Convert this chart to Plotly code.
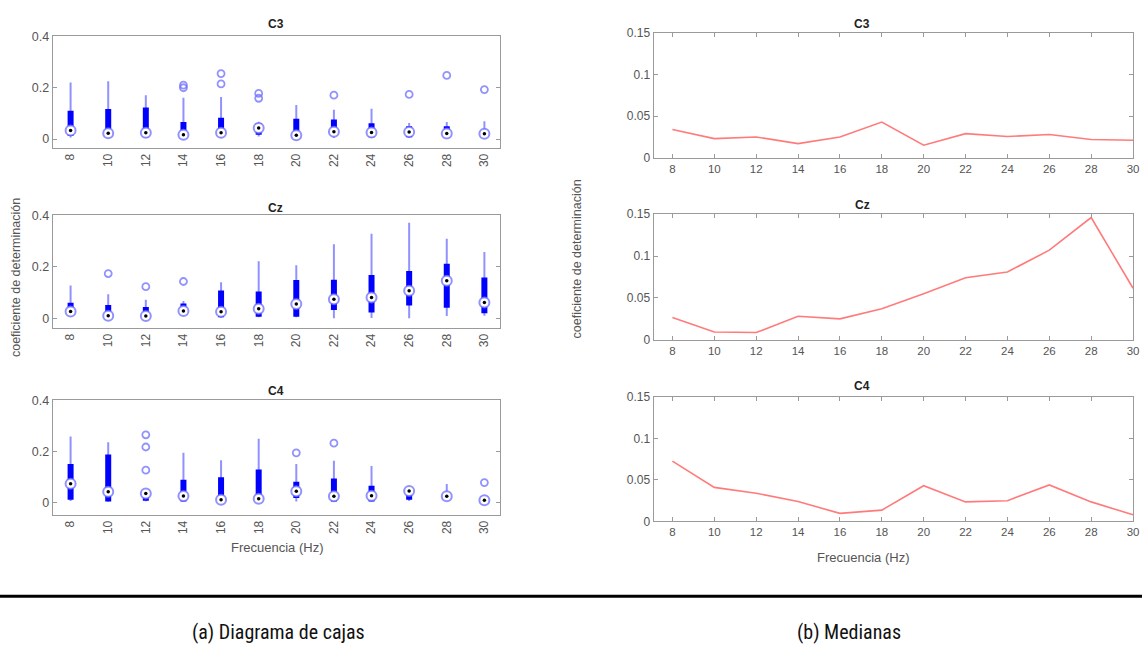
import plotly.graph_objects as go

W, H = 1148, 657

freqs = [8, 10, 12, 14, 16, 18, 20, 22, 24, 26, 28, 30]
channels = ["C3", "Cz", "C4"]

# medians (shared by box plots and median curves)
med_C3 = [0.034, 0.023, 0.025, 0.017, 0.025, 0.043, 0.015, 0.029, 0.0255, 0.028, 0.022, 0.021]
med_Cz = [0.0265, 0.0093, 0.0086, 0.028, 0.025, 0.037, 0.055, 0.074, 0.081, 0.107, 0.146, 0.0615]
med_C4 = [0.0726, 0.041, 0.034, 0.024, 0.0098, 0.0137, 0.043, 0.0236, 0.025, 0.044, 0.0236, 0.008]

# box quartiles
q1_C3 = [0.013, 0.008, 0.007, 0.009, 0.009, 0.017, 0.006, 0.017, 0.007, 0.007, 0.007, 0.008]
q3_C3 = [0.110, 0.117, 0.123, 0.067, 0.083, 0.063, 0.079, 0.076, 0.062, 0.050, 0.050, 0.030]
q1_Cz = [0.013, 0.006, 0.004, 0.019, 0.004, 0.006, 0.006, 0.032, 0.022, 0.050, 0.041, 0.019]
q3_Cz = [0.060, 0.052, 0.044, 0.057, 0.108, 0.104, 0.149, 0.150, 0.168, 0.184, 0.212, 0.159]
q1_C4 = [0.010, 0.003, 0.006, 0.003, 0.003, 0.003, 0.017, 0.003, 0.003, 0.010, 0.010, 0.003]
q3_C4 = [0.150, 0.188, 0.043, 0.088, 0.098, 0.129, 0.080, 0.093, 0.065, 0.052, 0.036, 0.023]

# whiskers
wlo_C3 = [0.006, 0.004, 0.004, 0.004, 0.004, 0.010, 0.003, 0.004, 0.004, 0.004, 0.004, 0.004]
whi_C3 = [0.220, 0.225, 0.171, 0.161, 0.164, 0.068, 0.133, 0.114, 0.118, 0.063, 0.067, 0.070]
wlo_Cz = [0.008, 0.004, 0.003, 0.012, 0.002, 0.004, 0.004, 0.000, 0.001, 0.000, 0.009, 0.010]
whi_Cz = [0.127, 0.093, 0.072, 0.067, 0.140, 0.222, 0.206, 0.288, 0.329, 0.372, 0.309, 0.258]
wlo_C4 = [0.005, 0.002, 0.004, 0.002, 0.002, 0.002, 0.003, 0.002, 0.002, 0.005, 0.005, 0.002]
whi_C4 = [0.258, 0.236, 0.045, 0.194, 0.165, 0.249, 0.150, 0.163, 0.142, 0.059, 0.072, 0.026]

# outliers (frequency, value)
out_C3 = [(14, 0.210), (14, 0.200), (16, 0.255), (16, 0.215), (18, 0.178), (18, 0.159),
          (22, 0.171), (26, 0.174), (28, 0.248), (30, 0.193)]
out_Cz = [(10, 0.174), (12, 0.123), (14, 0.143)]
out_C4 = [(12, 0.265), (12, 0.217), (12, 0.126), (20, 0.194), (22, 0.232), (30, 0.077)]

data = {
    "C3": dict(med=med_C3, q1=q1_C3, q3=q3_C3, wlo=wlo_C3, whi=whi_C3, out=out_C3),
    "Cz": dict(med=med_Cz, q1=q1_Cz, q3=q3_Cz, wlo=wlo_Cz, whi=whi_Cz, out=out_Cz),
    "C4": dict(med=med_C4, q1=q1_C4, q3=q3_C4, wlo=wlo_C4, whi=whi_C4, out=out_C4),
}

left_ticks = [0, 0.2, 0.4]
right_ticks = [0, 0.05, 0.1, 0.15]
right_ticktext = ["0", "0.05", "0.1", "0.15"]

# ---------- layout geometry (pixels) ----------
def px_x(x):
    return x / W

def px_y(y):
    return 1 - y / H

left_x = (53, 503)
right_x = (657, 1139)
left_y = {"C3": (30, 144), "Cz": (213, 328), "C4": (402, 519)}
left_yrange = {"C3": [-0.0343, 0.4], "Cz": [-0.038, 0.4], "C4": [-0.05, 0.4]}
right_y = {"C3": (26.7, 154), "Cz": (211.7, 340), "C4": (398.3, 525.7)}

LIGHT = "rgba(110,110,255,0.75)"
BLUE = "#0000ff"
RED = "rgba(255,90,90,0.8)"
FRAME = "#9a9a9a"
TXT = "#555555"
FONT = "Liberation Sans, Arial, sans-serif"

fig = go.Figure()
layout = {}

for i, ch in enumerate(channels):
    d = data[ch]
    la = 2 * i + 1
    ra = 2 * i + 2
    lx = "x" if la == 1 else f"x{la}"
    ly = "y" if la == 1 else f"y{la}"
    rx, ry = f"x{ra}", f"y{ra}"

    # whiskers
    wx, wy = [], []
    for f, lo, hi in zip(freqs, d["wlo"], d["whi"]):
        wx += [f, f, None]
        wy += [lo, hi, None]
    fig.add_trace(go.Scatter(x=wx, y=wy, mode="lines", line=dict(color=LIGHT, width=2),
                             xaxis=lx, yaxis=ly, showlegend=False, hoverinfo="skip"))
    # boxes
    bx, by = [], []
    for f, a, b in zip(freqs, d["q1"], d["q3"]):
        bx += [f, f, None]
        by += [a, b, None]
    fig.add_trace(go.Scatter(x=bx, y=by, mode="lines", line=dict(color=BLUE, width=6),
                             xaxis=lx, yaxis=ly, showlegend=False, hoverinfo="skip"))
    # outliers
    fig.add_trace(go.Scatter(x=[o[0] for o in d["out"]], y=[o[1] for o in d["out"]],
                             mode="markers",
                             marker=dict(symbol="circle-open", size=7, color=LIGHT,
                                         line=dict(width=1.8, color=LIGHT)),
                             xaxis=lx, yaxis=ly, showlegend=False))
    # medians
    fig.add_trace(go.Scatter(x=freqs, y=d["med"], mode="markers",
                             marker=dict(symbol="circle", size=10, color="white",
                                         line=dict(width=2, color=LIGHT)),
                             xaxis=lx, yaxis=ly, showlegend=False))
    fig.add_trace(go.Scatter(x=freqs, y=d["med"], mode="markers",
                             marker=dict(symbol="circle", size=3.5, color="black"),
                             xaxis=lx, yaxis=ly, showlegend=False))

    # right median line
    fig.add_trace(go.Scatter(x=freqs, y=d["med"], mode="lines",
                             line=dict(color=RED, width=1.6),
                             xaxis=rx, yaxis=ry, showlegend=False))

    common = dict(showline=True, linecolor=FRAME, linewidth=1, mirror="ticks",
                  ticks="inside", ticklen=4, tickcolor=FRAME, showgrid=False,
                  zeroline=False, tickfont=dict(family=FONT, size=11.5, color=TXT))

    t, b = left_y[ch]
    layout["xaxis" if la == 1 else f"xaxis{la}"] = dict(
        common, domain=[px_x(left_x[0]), px_x(left_x[1])], anchor=ly,
        range=[7.05, 30.85], tickvals=freqs, ticktext=[str(f) for f in freqs],
        tickangle=-90, ticks="", tickfont=dict(family=FONT, size=12, color=TXT))
    layout["yaxis" if la == 1 else f"yaxis{la}"] = dict(
        common, domain=[px_y(b), px_y(t)], anchor=lx,
        range=left_yrange[ch], tickvals=left_ticks, ticktext=["0", "0.2", "0.4"],
        tickfont=dict(family=FONT, size=12.5, color=TXT))

    t, b = right_y[ch]
    layout[f"xaxis{ra}"] = dict(
        common, domain=[px_x(right_x[0]), px_x(right_x[1])], anchor=ry,
        range=[7.1, 30], tickvals=freqs, ticktext=[str(f) for f in freqs])
    layout[f"yaxis{ra}"] = dict(
        common, domain=[px_y(b), px_y(t)], anchor=rx,
        range=[0, 0.15], tickvals=right_ticks, ticktext=right_ticktext,
        tickfont=dict(family=FONT, size=12, color=TXT))

annotations = []
def ann(text, x, y, size, bold=False, angle=0, color=TXT, family=FONT):
    annotations.append(dict(text=f"<b>{text}</b>" if bold else text,
                            x=px_x(x), y=px_y(y), xref="paper", yref="paper",
                            showarrow=False, textangle=angle,
                            font=dict(family=family, size=size, color=color),
                            xanchor="center", yanchor="middle"))

left_title_y = {"C3": 17, "Cz": 205, "C4": 392}
right_title_y = {"C3": 17, "Cz": 202, "C4": 387}
for ch in channels:
    ann(ch, 277, left_title_y[ch], 12, bold=True, color="#222222")
    ann(ch, 867, right_title_y[ch], 12, bold=True, color="#222222")

ann("Frecuencia (Hz)", 278, 552, 13)
ann("Frecuencia (Hz)", 868, 562, 13)
ann("coeficiente de determinación", 16, 276, 12.5, angle=-90)
ann("coeficiente de determinación", 580, 257, 12.5, angle=-90)

CAPF = "Liberation Sans Narrow, Roboto Condensed, Arial Narrow, sans-serif"
ann("(a) Diagrama de cajas", 280, 639, 20, color="#111111", family=CAPF)
ann("(b) Medianas", 853, 639, 20, color="#111111", family=CAPF)

shapes = [dict(type="line", xref="paper", yref="paper", x0=0, x1=1,
               y0=px_y(602), y1=px_y(602), line=dict(color="black", width=3))]

fig.update_layout(width=W, height=H, margin=dict(l=0, r=0, t=0, b=0),
                  paper_bgcolor="white", plot_bgcolor="white",
                  annotations=annotations, shapes=shapes, showlegend=False,
                  **layout)

fig.write_html("out.html")
